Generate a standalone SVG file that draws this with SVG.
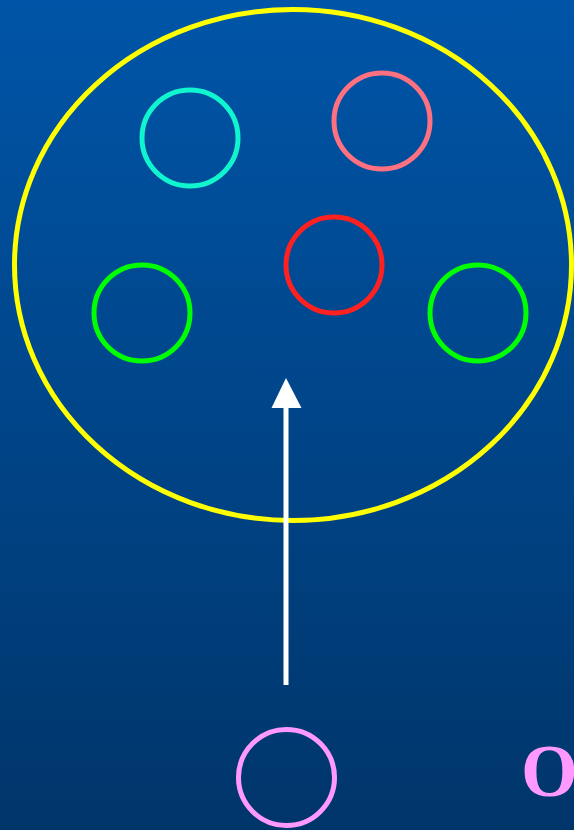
<svg xmlns="http://www.w3.org/2000/svg" width="574" height="830" viewBox="0 0 574 830">
<defs>
<linearGradient id="bg" x1="0" y1="0" x2="0" y2="1">
<stop offset="0" stop-color="#0055a8"/>
<stop offset="1" stop-color="#00356a"/>
</linearGradient>
</defs>
<style>
.c{fill:none;stroke-width:5}
</style>
<rect width="574" height="830" fill="url(#bg)"/>
<g id="set"><ellipse cx="293" cy="265" rx="278.5" ry="255.5" class="c" stroke="#ffff00"/></g>
<g id="cyan"><circle cx="190" cy="138" r="48" class="c" stroke="#11f5cf"/></g>
<g id="salmon"><circle cx="382" cy="121" r="48" class="c" stroke="#ff7080"/></g>
<g id="red"><circle cx="334" cy="265" r="48" class="c" stroke="#ff2020"/></g>
<g id="greenL"><circle cx="142" cy="313" r="48" class="c" stroke="#00ff00"/></g>
<g id="greenR"><circle cx="478" cy="313" r="48" class="c" stroke="#00ff00"/></g>
<g id="pink"><circle cx="286.5" cy="777.5" r="48" class="c" stroke="#ff99ff"/></g>
<g id="connectors">
<line x1="286" y1="685" x2="286" y2="405" stroke="#ffffff" stroke-width="5"/>
<polygon points="286,378 271.5,408 301.5,408" fill="#ffffff"/>
</g>
<text x="521" y="796" font-family="Liberation Serif, serif" font-weight="bold" font-size="73" fill="#ff99ff">O</text>
</svg>
